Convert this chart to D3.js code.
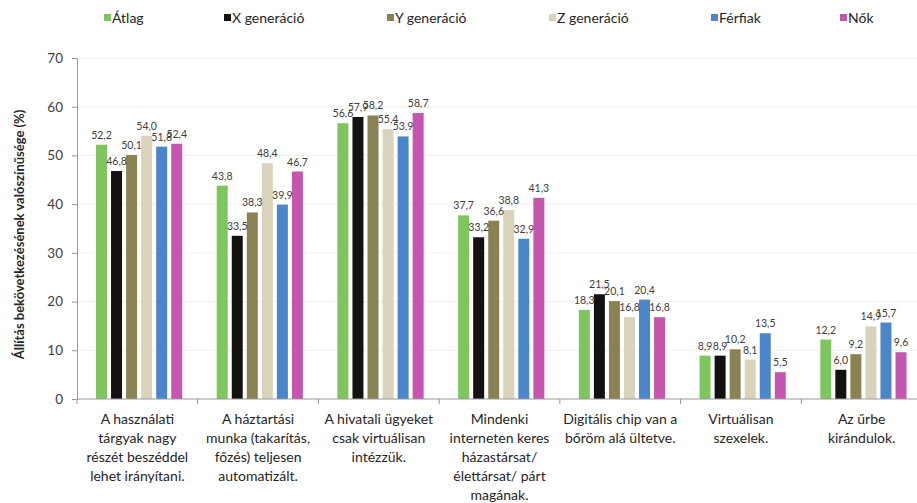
<!DOCTYPE html>
<html>
<head>
<meta charset="utf-8">
<script src="https://cdn.jsdelivr.net/npm/d3@7"></script>
<style>
  body { margin: 0; background: #fff; }
  text { font-family: Lato, "Open Sans", sans-serif; }
</style>
</head>
<body>
<svg id="chart" width="917" height="503"></svg>
<script>
// categories (multi-line labels)
const categories = [
  ["A használati", "tárgyak nagy", "részét beszéddel", "lehet irányítani."],
  ["A háztartási", "munka (takarítás,", "főzés) teljesen", "automatizált."],
  ["A hivatali ügyeket", "csak virtuálisan", "intézzük."],
  ["Mindenki", "interneten keres", "házastársat/", "élettársat/ párt", "magának."],
  ["Digitális chip van a", "bőröm alá ültetve."],
  ["Virtuálisan", "szexelek."],
  ["Az űrbe", "kirándulok."]
];
const seriesNames = ["Átlag", "X generáció", "Y generáció", "Z generáció", "Férfiak", "Nők"];
const seriesColors = ["#7dc55c", "#141210", "#8a8253", "#d9d3bc", "#4a86c9", "#c655b0"];

const atlag = [52.2, 43.8, 56.6, 37.7, 18.3, 8.9, 12.2];
const xGen  = [46.8, 33.5, 57.9, 33.2, 21.5, 8.9, 6.0];
const yGen  = [50.1, 38.3, 58.2, 36.6, 20.1, 10.2, 9.2];
const zGen  = [54.0, 48.4, 55.4, 38.8, 16.8, 8.1, 14.9];
const ferfiak = [51.8, 39.9, 53.9, 32.9, 20.4, 13.5, 15.7];
const nok   = [52.4, 46.7, 58.7, 41.3, 16.8, 5.5, 9.6];
const seriesValues = [atlag, xGen, yGen, zGen, ferfiak, nok];

const yTicks = [0, 10, 20, 30, 40, 50, 60, 70];

const svg = d3.select("#chart");
const W = 917, H = 503;
const margin = { left: 77, right: -5, top: 58, bottom: 104 };

const x0 = d3.scaleBand()
  .domain(d3.range(categories.length))
  .range([margin.left, W - margin.right])
  .padding(0);
const x1 = d3.scaleBand()
  .domain(d3.range(seriesNames.length))
  .range([19, x0.bandwidth() - 15.5])
  .paddingInner(0.27);
const y = d3.scaleLinear().domain([0, 70]).range([H - margin.bottom, margin.top]);

// faint gridlines
svg.append("g")
  .selectAll("line")
  .data(yTicks.slice(1))
  .join("line")
  .attr("x1", margin.left).attr("x2", W)
  .attr("y1", d => y(d)).attr("y2", d => y(d))
  .attr("stroke", "#f0f0f0").attr("stroke-width", 1);

// bars
const groups = svg.append("g")
  .selectAll("g")
  .data(categories.map((c, i) => i))
  .join("g")
  .attr("transform", i => `translate(${x0(i)},0)`);

groups.selectAll("rect")
  .data(i => seriesValues.map((s, k) => ({ k, v: s[i] })))
  .join("rect")
  .attr("x", d => x1(d.k))
  .attr("width", x1.bandwidth())
  .attr("y", d => y(d.v))
  .attr("height", d => y(0) - y(d.v))
  .attr("fill", d => seriesColors[d.k]);

groups.selectAll("text")
  .data(i => seriesValues.map((s, k) => ({ k, v: s[i] })))
  .join("text")
  .attr("x", d => x1(d.k) + x1.bandwidth() / 2)
  .attr("y", d => y(d.v) - 6)
  .attr("text-anchor", "middle")
  .attr("font-size", 10.5)
  .attr("fill", "#404040")
  .text(d => d.v.toFixed(1).replace(".", ","));

// y axis
const yAxis = svg.append("g")
  .attr("transform", `translate(${margin.left},0)`)
  .call(d3.axisLeft(y).tickValues(yTicks).tickSize(5).tickPadding(9));
yAxis.select(".domain").attr("stroke", "#999");
yAxis.selectAll(".tick line").attr("stroke", "#999");
yAxis.selectAll(".tick text").attr("font-size", 13.5).attr("fill", "#404040")
  .style("font-family", "Lato, sans-serif");

// x axis line with boundary ticks
svg.append("line")
  .attr("x1", margin.left).attr("x2", W)
  .attr("y1", y(0)).attr("y2", y(0))
  .attr("stroke", "#999");
svg.append("g")
  .selectAll("line")
  .data(d3.range(categories.length + 1))
  .join("line")
  .attr("x1", i => margin.left + i * x0.step())
  .attr("x2", i => margin.left + i * x0.step())
  .attr("y1", y(0)).attr("y2", y(0) + 5)
  .attr("stroke", "#999");

// category labels
svg.append("g")
  .selectAll("text")
  .data(categories)
  .join("text")
  .attr("x", (c, i) => x0(i) + x0.bandwidth() / 2)
  .attr("y", y(0) + 25)
  .attr("text-anchor", "middle")
  .attr("font-size", 14)
  .attr("fill", "#262626")
  .selectAll("tspan")
  .data(c => c)
  .join("tspan")
  .attr("x", function () { return this.parentNode.getAttribute("x"); })
  .attr("dy", (d, j) => j === 0 ? 0 : 19)
  .text(d => d);

// y axis title
svg.append("text")
  .attr("transform", `translate(24,${(y(0) + y(70)) / 2 + 6}) rotate(-90)`)
  .attr("text-anchor", "middle")
  .attr("font-size", 13)
  .attr("font-weight", "bold")
  .attr("fill", "#262626")
  .text("Állítás bekövetkezésének valószínűsége (%)");

// legend
const legendX = [104, 224, 387, 549, 711, 840];
const legend = svg.append("g")
  .selectAll("g")
  .data(seriesNames)
  .join("g")
  .attr("transform", (d, i) => `translate(${legendX[i]},18)`);
legend.append("rect")
  .attr("x", 0).attr("y", -4).attr("width", 7).attr("height", 7)
  .attr("fill", (d, i) => seriesColors[i]);
legend.append("text")
  .attr("x", 8).attr("y", 5)
  .attr("font-size", 14)
  .attr("fill", "#262626")
  .text(d => d);
</script>
</body>
</html>
